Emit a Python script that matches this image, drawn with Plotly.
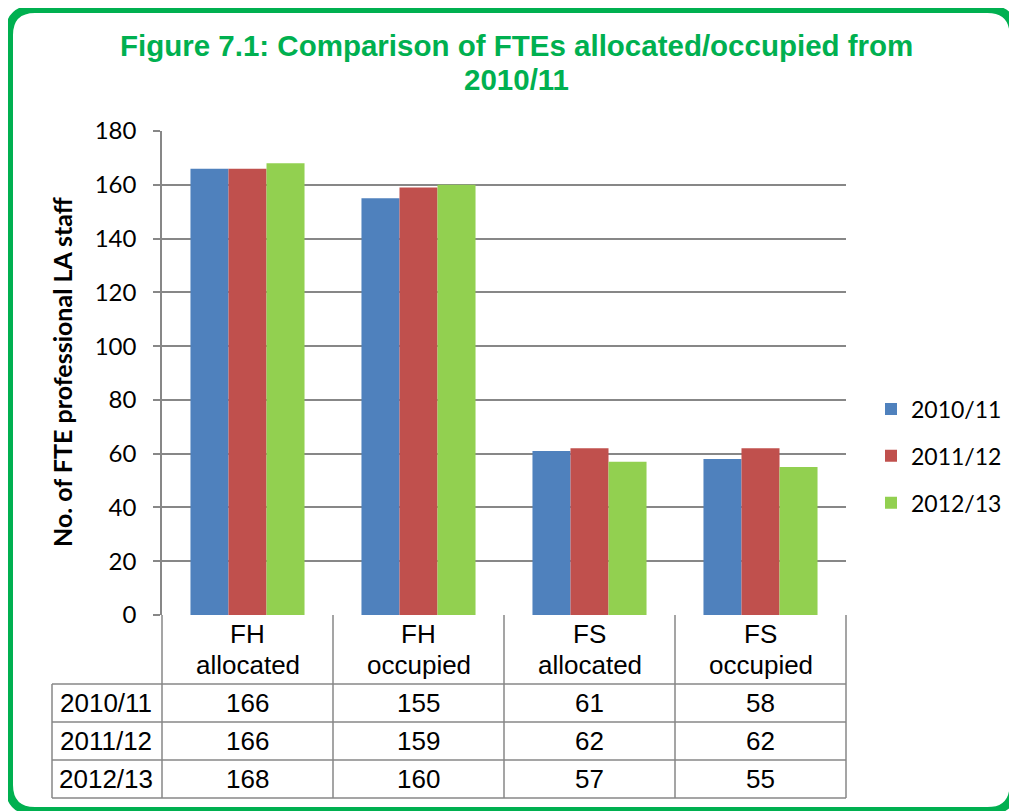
import plotly.graph_objects as go

W, H = 1017, 811
OFF = 8  # page body margin offset

categories = ["FH allocated", "FH occupied", "FS allocated", "FS occupied"]
series_names = ["2010/11", "2011/12", "2012/13"]
values_2010 = [166, 155, 61, 58]
values_2011 = [166, 159, 62, 62]
values_2012 = [168, 160, 57, 55]
series_values = [values_2010, values_2011, values_2012]
colors = ["#4F81BD", "#C0504D", "#92D050"]
y_ticks = [0, 20, 40, 60, 80, 100, 120, 140, 160, 180]

title_lines = ["Figure 7.1: Comparison of FTEs allocated/occupied from", "2010/11"]
y_title = "No. of FTE professional LA staff"


def px(x):
    return (x - OFF) / W


def py(y):
    return 1 - (y - OFF) / H


fig = go.Figure()
for name, vals, col in zip(series_names, series_values, colors):
    fig.add_trace(go.Bar(x=categories, y=vals, name=name, marker_color=col,
                         marker_line_width=0, legendgroup=name))

grid_col = "#878787"
shapes = []

x_left, x_right = 162, 846
row_lines = [684, 722, 760, 798]
col_lines = [162, 333, 504, 675, 846]
table_left = 52

for xv in col_lines:
    shapes.append(dict(type="line", xref="paper", yref="paper",
                       x0=px(xv), x1=px(xv), y0=py(615), y1=py(798),
                       line=dict(color=grid_col, width=1.5)))
shapes.append(dict(type="line", xref="paper", yref="paper",
                   x0=px(table_left), x1=px(table_left), y0=py(684), y1=py(798),
                   line=dict(color=grid_col, width=1.5)))
for yv in row_lines:
    shapes.append(dict(type="line", xref="paper", yref="paper",
                       x0=px(table_left), x1=px(x_right), y0=py(yv), y1=py(yv),
                       line=dict(color=grid_col, width=1.5)))

# Rounded green border (page coords)
L, T, R, B, r = 9, 9, 1013.5, 811, 26
path = (f"M {px(L + r)},{py(T)} L {px(R - r)},{py(T)} Q {px(R)},{py(T)} {px(R)},{py(T + r)} "
        f"L {px(R)},{py(B - r)} Q {px(R)},{py(B)} {px(R - r)},{py(B)} "
        f"L {px(L + r)},{py(B)} Q {px(L)},{py(B)} {px(L)},{py(B - r)} "
        f"L {px(L)},{py(T + r)} Q {px(L)},{py(T)} {px(L + r)},{py(T)} Z")
shapes.append(dict(type="path", xref="paper", yref="paper", path=path,
                   line=dict(color="#00B050", width=8)))

annotations = []
tfont = dict(family="Liberation Sans, Arial", size=26, color="#000000")
for c in categories:
    first, rest = c.split(" ", 1)
    annotations.append(dict(x=c, xref="x", y=py(634), yref="paper", text=first,
                            showarrow=False, font=tfont, xanchor="center", yanchor="middle"))
    annotations.append(dict(x=c, xref="x", y=py(665), yref="paper", text=rest,
                            showarrow=False, font=tfont, xanchor="center", yanchor="middle"))
row_centers = [703, 741, 779]
for name, vals, yc in zip(series_names, series_values, row_centers):
    annotations.append(dict(x=px(106), xref="paper", y=py(yc), yref="paper", text=name,
                            showarrow=False, font=tfont, xanchor="center", yanchor="middle"))
    for c, v in zip(categories, vals):
        annotations.append(dict(x=c, xref="x", y=py(yc), yref="paper", text=str(v),
                                showarrow=False, font=tfont, xanchor="center", yanchor="middle"))

annotations.append(dict(x=px(62), xref="paper", y=py(372), yref="paper", text=f"<b>{y_title}</b>",
                        textangle=-90, showarrow=False,
                        font=dict(family="Lato", size=25, color="#000000"),
                        xanchor="center", yanchor="middle"))

title_font = dict(family="Liberation Sans, Arial", size=29.5, color="#00B050")
for line, yc in zip(title_lines, [46, 80]):
    annotations.append(dict(x=px(516), xref="paper", y=py(yc), yref="paper", text=f"<b>{line}</b>",
                            showarrow=False, font=title_font, xanchor="center", yanchor="middle"))

fig.update_layout(
    width=W, height=H,
    margin=dict(l=0, r=0, t=0, b=0),
    paper_bgcolor="white", plot_bgcolor="white",
    barmode="group", bargap=0.333, bargroupgap=0,
    xaxis=dict(domain=[px(x_left), px(x_right)], showticklabels=False, showgrid=False,
               zeroline=False, showline=False, ticks="", fixedrange=True),
    yaxis=dict(domain=[py(615), py(131)], range=[0, 180], tickvals=y_ticks,
               showgrid=True, gridcolor=grid_col, gridwidth=1.5,
               zeroline=False, showline=True, linecolor=grid_col, linewidth=1.5,
               ticks="outside", ticklen=7, tickcolor=grid_col, tickwidth=1.5,
               tickfont=dict(family="Lato", size=24, color="#000000"),
               automargin=False, ticklabelstandoff=12),
    legend=dict(x=px(871), xanchor="left", y=py(456), yanchor="middle",
                font=dict(family="Lato", size=23, color="#000000"),
                tracegroupgap=14, bgcolor="rgba(0,0,0,0)", itemwidth=30),
    shapes=shapes,
    annotations=annotations,
    showlegend=True,
)

fig.write_html("out.html")
